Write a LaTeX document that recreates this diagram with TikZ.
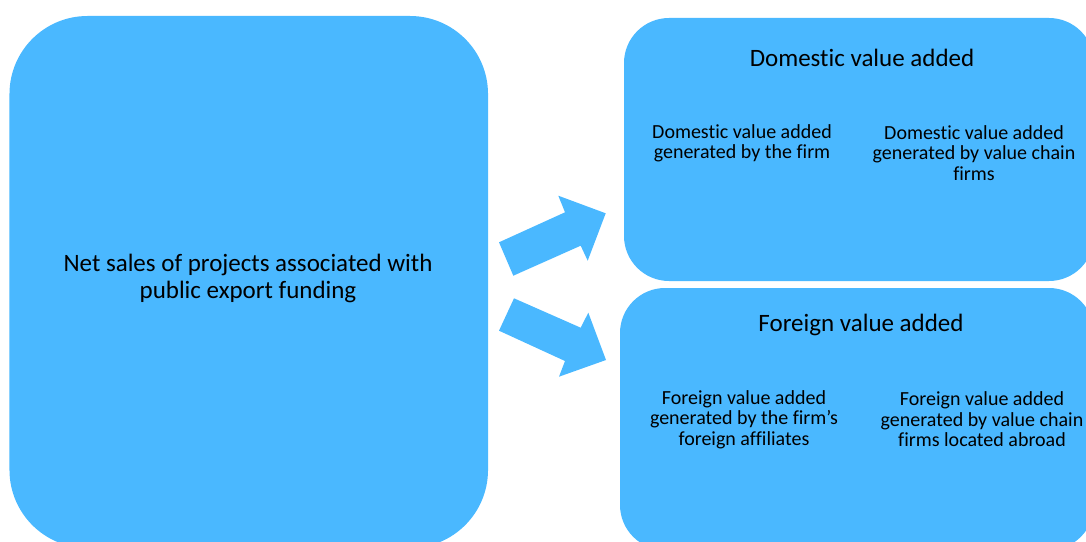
\documentclass[tikz,border=0pt]{standalone}
\usepackage{fontspec}
\setmainfont[RawFeature={-liga;-dlig}]{Carlito}
\definecolor{boxblue}{RGB}{74,184,255}
\begin{document}
\begin{tikzpicture}[x=0.75pt,y=-0.75pt,
  bigbox/.style={fill=boxblue,draw=none,inner sep=0pt},
  bigtxt/.style={font=\fontsize{18.75pt}{20.25pt}\selectfont,align=center,inner sep=0pt},
  subtxt/.style={font=\fontsize{15pt}{15.4pt}\selectfont,align=center,inner sep=0pt},
  blockarrow/.style={fill=boxblue,draw=none}]
\useasboundingbox (0,0) rectangle (1086,542);
\clip (0,0) rectangle (1086,542);
% boxes
\node[bigbox,minimum width=358.9pt,minimum height=399pt,rounded corners=58.5pt] (net) at (248.75,282) {};
\node[bigbox,minimum width=352.5pt,minimum height=197.25pt,rounded corners=33.75pt] (dom) at (859,149.5) {};
\node[bigbox,minimum width=355.5pt,minimum height=196.5pt,rounded corners=33.75pt] (for) at (857,419) {};
% texts
\node[bigtxt] (nettxt) at (248,278) {Net sales of projects associated with\\public export funding};
\node[bigtxt] (domtitle) at (862,58) {Domestic value added};
\node[subtxt] (dom1) at (742,143.5) {Domestic value added\\generated by the firm};
\node[subtxt] (dom2) at (974,153) {Domestic value added\\generated by value chain\\firms};
\node[bigtxt] (fortitle) at (861,324.5) {Foreign value added};
\node[subtxt] (for1) at (744,419.5) {Foreign value added\\generated by the firm’s\\foreign affiliates};
\node[subtxt] (for2) at (982,419.5) {Foreign value added\\generated by value chain\\firms located abroad};
% block arrows
\fill[blockarrow] (513.3,275.7) -- (499,242.3) -- (565,212.3) -- (558.3,195.7) -- (605.7,213.3) -- (587.7,260.7) -- (580.7,245.7) -- cycle;
\fill[blockarrow] (514,298.3) -- (499,330.7) -- (565,361) -- (559,376.7) -- (606,360) -- (588.3,312.7) -- (580.7,327.7) -- cycle;
\end{tikzpicture}
\end{document}
